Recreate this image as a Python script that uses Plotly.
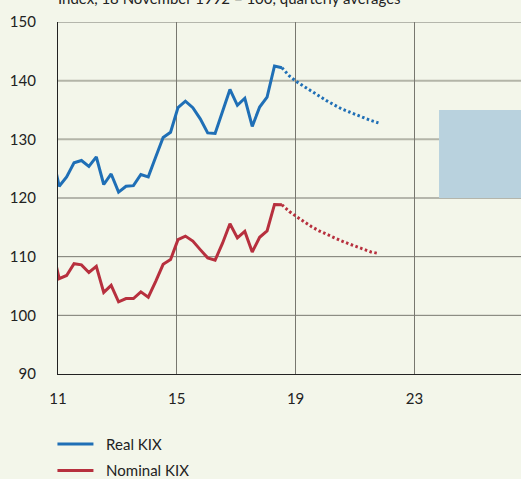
import plotly.graph_objects as go

# ---- data ----
quarter_start = 10.79          # clipped point before 2011
quarter_step = 0.25
real_kix = [127.8, 122.0, 123.6, 126.0, 126.4, 125.4, 127.0, 122.3, 124.1, 121.0, 122.0,
            122.1, 124.0, 123.6, 127.0, 130.3, 131.2, 135.4, 136.5, 135.4, 133.5,
            131.1, 131.0, 134.7, 138.5, 135.8, 137.0, 132.2, 135.5, 137.2, 142.5, 142.2]
nominal_kix = [111.8, 106.25, 106.8, 108.8, 108.6, 107.3, 108.35, 103.9, 105.1, 102.3, 102.85,
               102.85, 104.0, 103.1, 105.8, 108.7, 109.5, 112.9, 113.5, 112.65, 111.2,
               109.8, 109.4, 112.3, 115.6, 113.2, 114.3, 110.8, 113.3, 114.4, 118.9, 118.85]
real_proj = [142.2, 140.8, 139.8, 139.0, 138.1, 137.3, 136.6, 135.9, 135.2, 134.7,
             134.2, 133.6, 133.2, 132.8]
nominal_proj = [118.85, 117.7, 116.8, 115.9, 115.1, 114.4, 113.8, 113.25, 112.7, 112.2,
                111.7, 111.25, 110.8, 110.55]
band_x = [23.83, 28.0]
band_y = [120, 135]
x_ticks = [11, 15, 19, 23, 27]
y_ticks = [90, 100, 110, 120, 130, 140, 150]
light_grid = [130, 140]

hist_x = [quarter_start + quarter_step * i for i in range(len(real_kix))]
proj_x = [hist_x[-1] + quarter_step * i for i in range(len(real_proj))]

BLUE = "#1f6fb6"
RED = "#b7303e"
BG = "#f3f6ea"
FONT = "Lato"
PAD = "\u00a0\u00a0"

fig = go.Figure()
fig.add_trace(go.Scatter(x=hist_x, y=real_kix, mode="lines", name=PAD + "Real KIX",
                         line=dict(color=BLUE, width=3), legendgroup="a"))
fig.add_trace(go.Scatter(x=hist_x, y=nominal_kix, mode="lines", name=PAD + "Nominal KIX",
                         line=dict(color=RED, width=3), legendgroup="b"))
fig.add_trace(go.Scatter(x=proj_x, y=real_proj, mode="lines", showlegend=False,
                         line=dict(color=BLUE, width=3, dash="2.5px,2.5px")))
fig.add_trace(go.Scatter(x=proj_x, y=nominal_proj, mode="lines", showlegend=False,
                         line=dict(color=RED, width=3, dash="2.5px,2.5px")))

shapes = [dict(type="rect", xref="x", yref="y", x0=band_x[0], x1=band_x[1],
               y0=band_y[0], y1=band_y[1], fillcolor="#b9d2de", line=dict(width=0),
               layer="below")]
for yv in y_ticks[1:]:
    if yv in light_grid:
        shapes.append(dict(type="line", xref="paper", yref="y", x0=0, x1=1, y0=yv, y1=yv,
                           line=dict(color="#b3b5a8", width=2), layer="between"))
    else:
        shapes.append(dict(type="line", xref="paper", yref="y", x0=0, x1=1, y0=yv, y1=yv,
                           line=dict(color="#77776f", width=1), layer="between"))

fig.update_layout(
    width=521, height=497,
    margin=dict(l=58, r=0, t=22, b=123),
    paper_bgcolor=BG, plot_bgcolor=BG,
    font=dict(family=FONT, size=15, color="#222222"),
    shapes=shapes,
    showlegend=True,
    legend=dict(x=-0.012, y=-0.1526, xanchor="left", yanchor="top", bgcolor="rgba(0,0,0,0)",
                traceorder="grouped", tracegroupgap=4, font=dict(size=15),
                itemwidth=36),
    annotations=[dict(text="Index, 18 November 1992 = 100, quarterly averages",
                      xref="paper", yref="paper", x=0, y=1, xanchor="left", yanchor="bottom",
                      xshift=-2, yshift=13, showarrow=False,
                      font=dict(size=15, color="#222222"))],
    xaxis=dict(range=[11, 26.59], tickvals=x_ticks, showgrid=True, gridcolor="#77776f",
               gridwidth=1, zeroline=False, showline=True, linecolor="#222222", linewidth=1.3,
               ticks="", ticklabelstandoff=11),
    yaxis=dict(range=[90, 150], tickvals=y_ticks, showgrid=False, zeroline=False,
               showline=True, linecolor="#222222", linewidth=1.3, ticks="",
               ticklabelstandoff=18),
)

fig.write_html("out.html", config={"displayModeBar": False},
               post_script="document.body.style.margin='0';"
                           "document.body.style.overflow='hidden';"
                           "document.body.style.background='" + BG + "';")
